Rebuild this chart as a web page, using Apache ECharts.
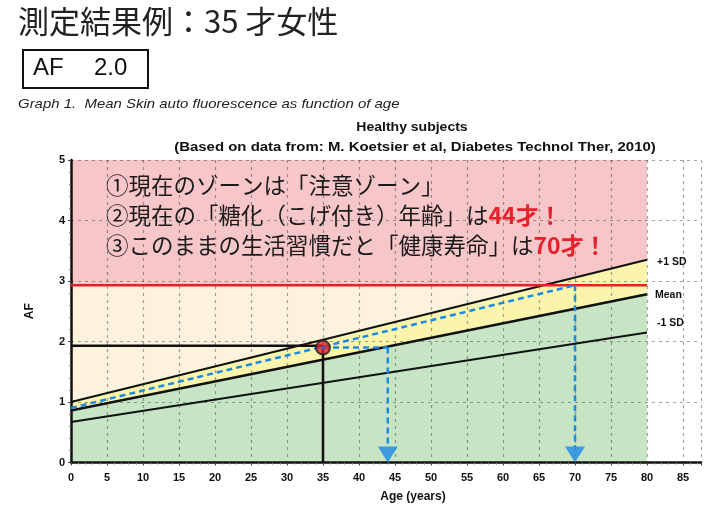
<!DOCTYPE html>
<html>
<head>
<meta charset="utf-8">
<script src="https://cdn.jsdelivr.net/npm/echarts@6/dist/echarts.min.js"></script>
<style>
html,body{margin:0;padding:0;background:#fff;}
#c{width:704px;height:515px;}
</style>
</head>
<body>
<div id="c"></div>
<script>
// ---- data ----
const lineAges = [0, 80];            // start / end age of the reference lines
const plus1SD = [1.00, 3.35];
const meanAF = [0.86, 2.78];
const minus1SD = [0.67, 2.15];
const cautionAF = 2.93;              // red threshold line
const zoneEndAge = 80;
const topAF = 5;
const measuredAge = 35;
const measuredAF = 1.90;
const measuredGuideAF = 1.93;
const blueTrackAges = [0, 70];
const blueTrackAF = [0.90, 2.93];
const glycationAge = 44;
const healthyLifeAge = 70;
const arrowStopAF = 0.25;
const xTickLabels = [0,5,10,15,20,25,30,35,40,45,50,55,60,65,70,75,80,85];
const yTickLabels = [0,1,2,3,4,5];

const pts = (xs, ys) => xs.map((x, i) => [x, ys[i]]);

const chart = echarts.init(document.getElementById('c'));
const axisFont = {fontFamily: 'Liberation Sans', fontWeight: 'bold', fontSize: 11, color: '#111'};
const gridLine = {show: true, lineStyle: {color: 'rgba(40,40,40,0.42)', width: 1.2, type: [3, 4]}};
const blue = '#1a8ae6';
const blueLine = {color: blue, width: 2.5, type: [6, 4]};

const fillSeries = (data, color, z) => ({
  type: 'line', data, symbol: 'none', silent: true, z,
  lineStyle: {width: 0}, areaStyle: {color, opacity: 1}
});
const plainLine = (data, style, z, extra) => Object.assign({
  type: 'line', data, symbol: 'none', silent: true, z, lineStyle: style
}, extra || {});

chart.setOption({
  animation: false,
  backgroundColor: '#fff',
  grid: {left: 71, right: 1, top: 160, bottom: 52.5},
  xAxis: {
    type: 'value', min: 0, max: 87.5, interval: 5, z: 5,
    axisLine: {lineStyle: {color: '#111', width: 2.5}},
    axisTick: {show: true, length: 3, lineStyle: {color: '#444'}},
    minorTick: {show: true, splitNumber: 5, length: 2, lineStyle: {color: '#777'}},
    axisLabel: Object.assign({margin: 10, formatter: v => xTickLabels.includes(v) ? String(v) : ''}, axisFont),
    splitLine: gridLine
  },
  yAxis: {
    type: 'value', min: 0, max: topAF, interval: 1, z: 5,
    name: 'AF', nameLocation: 'middle', nameGap: 35,
    nameTextStyle: {fontFamily: 'Liberation Sans', fontWeight: 'bold', fontSize: 12, color: '#111'},
    axisLine: {show: true, lineStyle: {color: '#111', width: 2.5}},
    axisTick: {show: true, length: 3, lineStyle: {color: '#444'}},
    minorTick: {show: true, splitNumber: 5, length: 2, lineStyle: {color: '#777'}},
    axisLabel: Object.assign({margin: 6, formatter: v => yTickLabels.includes(v) ? String(v) : ''}, axisFont),
    splitLine: gridLine
  },
  series: [
    // zone fills
    fillSeries(pts([0, zoneEndAge], [cautionAF, cautionAF]), '#fdf3dc', 1),
    fillSeries(pts(lineAges, plus1SD), '#faf4ad', 2),
    {
      type: 'line', data: [], silent: true, z: 3,
      markArea: {silent: true, itemStyle: {color: '#f7c6c9', opacity: 1},
        data: [[{coord: [0, cautionAF]}, {coord: [zoneEndAge, topAF]}]]}
    },
    fillSeries(pts(lineAges, meanAF), '#c7e5c5', 4),
    // reference lines
    plainLine(pts(lineAges, plus1SD), {color: '#111', width: 2}, 10, {
      endLabel: {show: true, formatter: '+1 SD', offset: [2, 2], fontFamily: 'Liberation Sans', fontWeight: 'bold', fontSize: 10.5, color: '#111'}
    }),
    plainLine(pts(lineAges, meanAF), {color: '#111', width: 2.5}, 10, {
      endLabel: {show: true, formatter: 'Mean', offset: [0, 1], fontFamily: 'Liberation Sans', fontWeight: 'bold', fontSize: 10.5, color: '#111'}
    }),
    plainLine(pts(lineAges, minus1SD), {color: '#111', width: 2}, 10, {
      endLabel: {show: true, formatter: '-1 SD', offset: [2, -9], fontFamily: 'Liberation Sans', fontWeight: 'bold', fontSize: 10.5, color: '#111'}
    }),
    plainLine(pts([0, zoneEndAge], [cautionAF, cautionAF]), {color: '#e8202a', width: 2.5}, 11),
    // measured guide lines
    plainLine(pts([0, measuredAge], [measuredGuideAF, measuredGuideAF]), {color: '#111', width: 2.5}, 10),
    plainLine(pts([measuredAge, measuredAge], [0, measuredAF]), {color: '#111', width: 2.5}, 10),
    // blue tracking lines
    plainLine(pts(blueTrackAges, blueTrackAF), blueLine, 12),
    plainLine(pts([measuredAge, glycationAge], [measuredAF, measuredAF]), blueLine, 12),
    plainLine(pts([glycationAge, glycationAge], [measuredAF, arrowStopAF]), blueLine, 12),
    plainLine(pts([healthyLifeAge, healthyLifeAge], [cautionAF, arrowStopAF]), blueLine, 12),
    {
      type: 'scatter', z: 13, silent: true,
      data: [[glycationAge, 0], [healthyLifeAge, 0]],
      symbol: 'triangle', symbolSize: [20, 16], symbolRotate: 180, symbolOffset: [0, -8],
      itemStyle: {color: blue}
    },
    {
      type: 'scatter', z: 14, silent: true,
      data: [[measuredAge, measuredAF]],
      symbol: 'circle', symbolSize: 14,
      itemStyle: {color: '#e0202a', borderColor: '#222', borderWidth: 2}
    },
    {
      type: 'scatter', z: 15, silent: true,
      data: [[measuredAge, measuredAF]],
      symbol: 'circle', symbolSize: 4,
      itemStyle: {color: '#3060d0'}
    }
  ],
  graphic: [
    {type: 'text', left: 18, top: 6, style: {text: '測定結果例：35 才女性', fontFamily: 'Noto Sans CJK JP', fontSize: 31, fill: '#222'}},
    {type: 'rect', shape: {x: 23, y: 50, width: 125, height: 38}, style: {fill: 'none', stroke: '#111', lineWidth: 2}},
    {type: 'text', left: 33, top: 56, style: {text: 'AF', fontFamily: 'Liberation Sans', fontSize: 24, fill: '#111'}},
    {type: 'text', left: 94, top: 56, style: {text: '2.0', fontFamily: 'Liberation Sans', fontSize: 24, fill: '#111'}},
    {type: 'text', x: 18, y: 104, scaleX: 1.15, style: {text: 'Graph 1.  Mean Skin auto fluorescence as function of age', verticalAlign: 'middle', fontFamily: 'Liberation Sans', fontStyle: 'italic', fontSize: 13, fill: '#222'}},
    {type: 'text', x: 412, y: 128, scaleX: 1.12, style: {text: 'Healthy subjects', align: 'center', verticalAlign: 'middle', fontFamily: 'Liberation Sans', fontWeight: 'bold', fontSize: 12.5, fill: '#111'}},
    {type: 'text', x: 415, y: 147, scaleX: 1.15, style: {text: '(Based on data from: M. Koetsier et al, Diabetes Technol Ther, 2010)', align: 'center', verticalAlign: 'middle', fontFamily: 'Liberation Sans', fontWeight: 'bold', fontSize: 13, fill: '#111'}},
    {type: 'text', x: 413, y: 497, style: {text: 'Age (years)', align: 'center', verticalAlign: 'middle', fontFamily: 'Liberation Sans', fontWeight: 'bold', fontSize: 12, fill: '#111'}},
    {type: 'text', left: 106, top: 170, z: 100, style: {
      text: '①現在のゾーンは「注意ゾーン」\n②現在の「糖化（こげ付き）年齢」は{r|44才！}\n③このままの生活習慣だと「健康寿命」は{r|70才！}',
      fontFamily: 'Noto Sans CJK JP', fontSize: 22.5, lineHeight: 30, fill: '#1a1a1a',
      rich: {r: {fontFamily: 'Noto Sans CJK JP', fontWeight: 'bold', fontSize: 23, lineHeight: 30, fill: '#e8202a'}}
    }}
  ]
});
</script>
</body>
</html>
